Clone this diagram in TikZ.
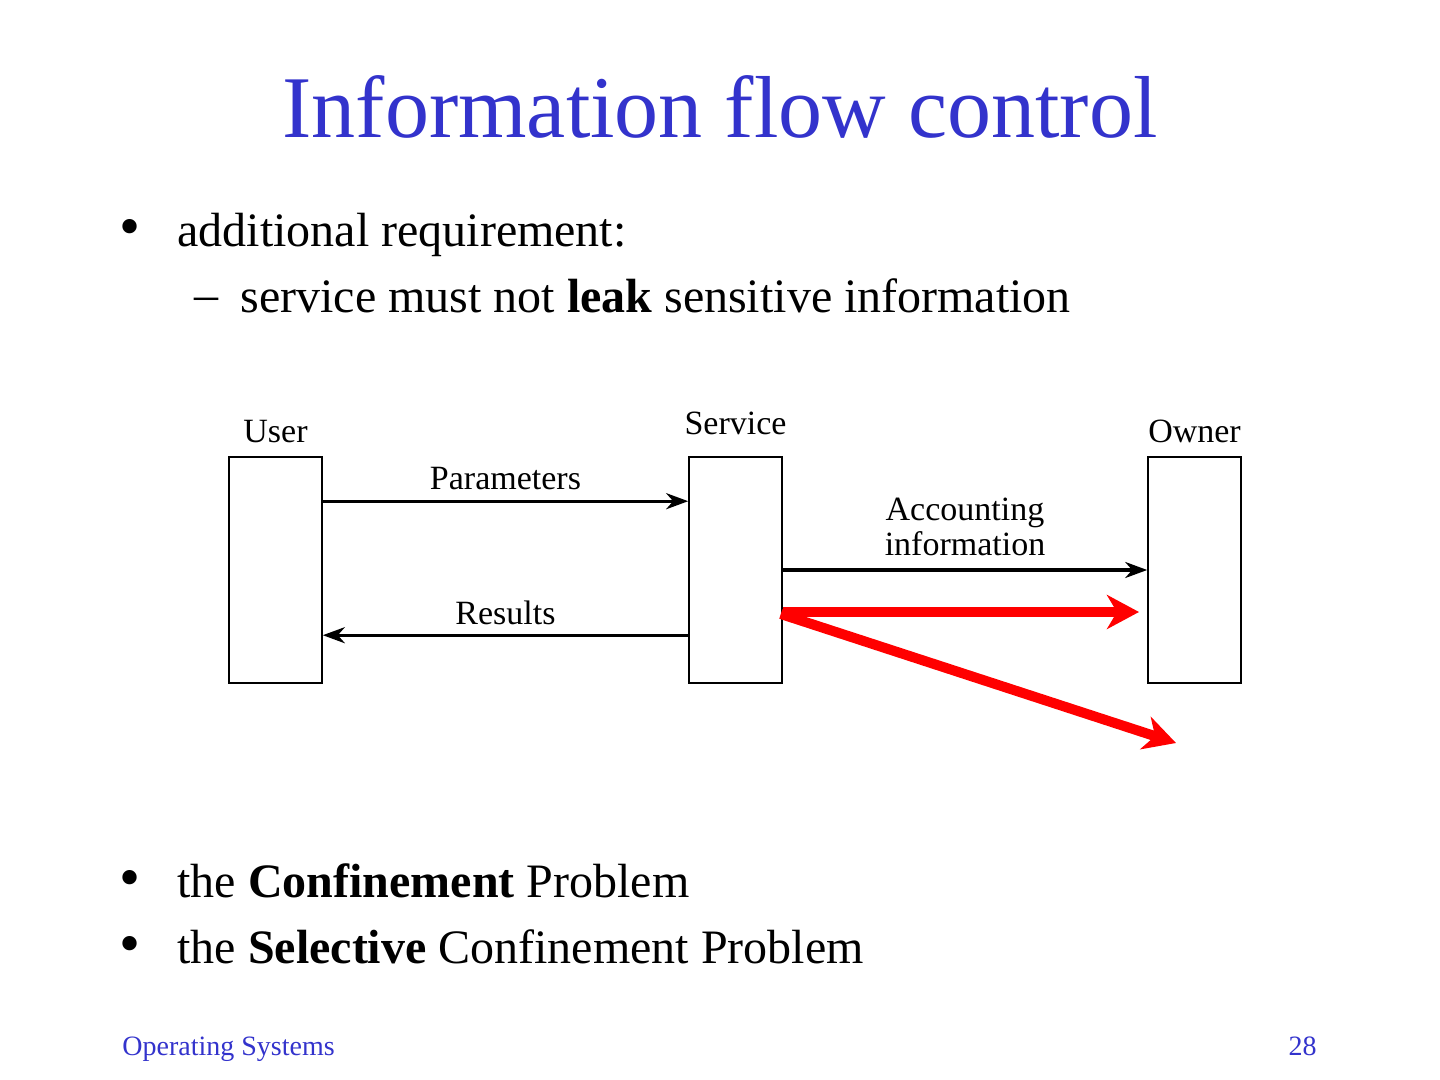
\documentclass[tikz,border=0pt]{standalone}
\usepackage{fontspec}
\setmainfont{Liberation Serif}
\usetikzlibrary{positioning, arrows.meta, calc}
\usepackage{xcolor}
\definecolor{slideblue}{RGB}{51,51,204}
\definecolor{leakred}{RGB}{255,0,0}

\begin{document}
\begin{tikzpicture}[
    x=0.5pt, y=-0.5pt,
    every node/.style={inner sep=0pt},
    title/.style={font=\fontsize{44}{50}\selectfont, text=slideblue, anchor=base},
    item/.style={font=\fontsize{24}{28}\selectfont, anchor=base west},
    dot/.style={font=\fontsize{30}{32}\selectfont, anchor=base},
    footer/.style={font=\fontsize{14}{16}\selectfont, text=slideblue},
    party/.style={
        draw,
        line width=0.8pt,
        minimum width=46.5pt,
        minimum height=113pt,
    },
    who/.style={font=\fontsize{17}{19}\selectfont, anchor=base},
    lbl/.style={font=\fontsize{17}{17.5}\selectfont, align=center},
    flow/.style={-{Stealth[length=11pt, width=8pt, inset=3.5pt]}, line width=1.7pt},
    leak/.style={-{Stealth[length=16pt, width=17pt, inset=5pt]}, line width=5pt, leakred},
]
\useasboundingbox (0,0) rectangle (1440,1080);

% Title
\node[title] (head) at (720,138) {Information flow control};

% Bullets on top
\node[dot] (dot1) at (130,247) {•};
\node[item] (req) at (177,247) {additional requirement:};
\node[item] (dash1) at (194,311) {–};
\node[item] (must) at (240,313) {service must not \textbf{leak} sensitive information};

% Parties
\node[party] (user) at (275.5,570) {};
\node[party] (service) at (735.5,570) {};
\node[party] (owner) at (1194.5,570) {};

\node[who] (userlbl) at ([yshift=7pt]user.north) {User};
\node[who] (servicelbl) at ([yshift=11pt]service.north) {Service};
\node[who] (ownerlbl) at ([yshift=7pt]owner.north) {Owner};

% Regular flows
\draw[flow] ([yshift=-22.5pt]user.north east) -- ([yshift=-22.5pt]service.north west)
    node[lbl, midway, anchor=base, yshift=6pt] {Parameters};
\draw[flow] (service.east) -- (owner.west)
    node[lbl, midway, anchor=south, yshift=6pt] {Accounting\\information};
\draw[flow] ([yshift=-89.5pt]service.north west) -- ([yshift=-89.5pt]user.north east)
    node[lbl, midway, anchor=base, yshift=5.5pt] {Results};

% Leaks
\coordinate (leak1) at (1139,612);
\coordinate (leak2) at (1176,743);
\draw[leak] ([yshift=-21pt]service.east) -- (leak1);
\draw[leak] ([xshift=-1pt, yshift=-22pt]service.east) -- (leak2);

% Bullets at the bottom
\node[dot] (dot2) at (130,897) {•};
\node[item] (conf) at (177,897) {the \textbf{Confinement} Problem};
\node[dot] (dot3) at (130,963) {•};
\node[item] (sel) at (177,963) {the \textbf{Selective} Confinement Problem};

% Footer
\node[footer, anchor=base west] (course) at (122,1055) {Operating Systems};
\node[footer, anchor=base east] (page) at (1317,1055) {28};

\end{tikzpicture}
\end{document}
